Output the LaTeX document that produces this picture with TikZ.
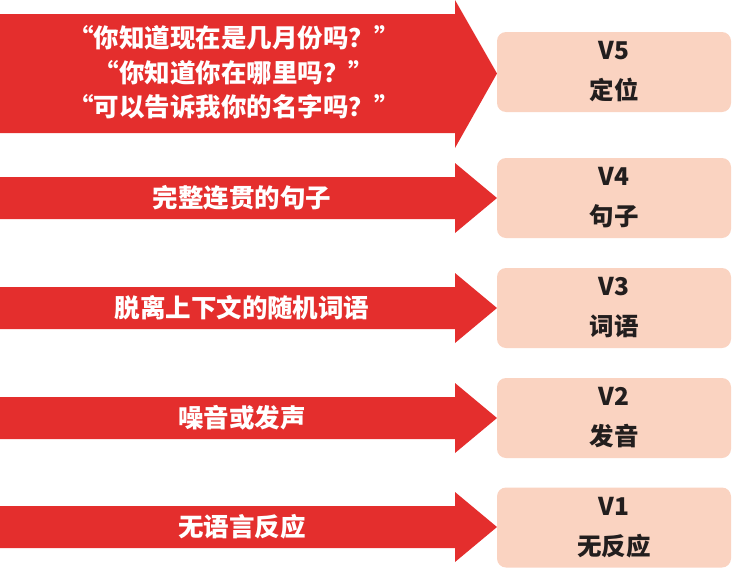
\documentclass[tikz,border=0pt]{standalone}
\usepackage{fontspec}
\newfontfamily\cjk{Noto Sans CJK SC}
\usepackage{tikz}
\definecolor{ArrowRed}{RGB}{228,46,45}
\definecolor{BoxPeach}{RGB}{250,211,193}
\definecolor{BoxText}{RGB}{34,30,30}

\begin{document}
\begin{tikzpicture}[
    x=1pt, y=-1pt,
    redarrow/.style={fill=ArrowRed},
    arrowtext/.style={text=white, align=center, font={\cjk\bfseries\fontsize{25.5}{34.5}\selectfont}},
    level/.style={fill=BoxPeach, rounded corners=9pt, minimum width=234pt, minimum height=80pt,
      inner sep=0pt, align=center, text=BoxText, font={\cjk\bfseries\fontsize{24.5}{40}\selectfont}}
  ]
  \useasboundingbox (0,0) rectangle (732,568);

  \fill[redarrow] (0,14) -- (455,14) -- (455,0) -- (497,73.5) -- (455,148) -- (455,133) -- (0,133) -- cycle;
  \node[arrowtext] (say5) at (234,72.5)
  {“你知道现在是几月份吗？”\\“你知道你在哪里吗？”\\“可以告诉我你的名字吗？”};

  \foreach \c/\txt/\n in {198/完整连贯的句子/4, 308/脱离上下文的随机词语/3, 418/噪音或发声/2, 527/无语言反应/1}
  {
    \fill[redarrow] (0,\c-21) -- (455,\c-21) -- (455,\c-35) -- (497,\c) -- (455,\c+35) -- (455,\c+21) -- (0,\c+21) -- cycle;
    \node[arrowtext] (say\n) at (242,\c) {\txt};
  }

  \node[level] (v5) at (614,72) {V5\\定位};
  \node[level] (v4) at (614,198) {V4\\句子};
  \node[level] (v3) at (614,308) {V3\\词语};
  \node[level] (v2) at (614,418) {V2\\发音};
  \node[level] (v1) at (614,527.5) {V1\\无反应};
\end{tikzpicture}
\end{document}
